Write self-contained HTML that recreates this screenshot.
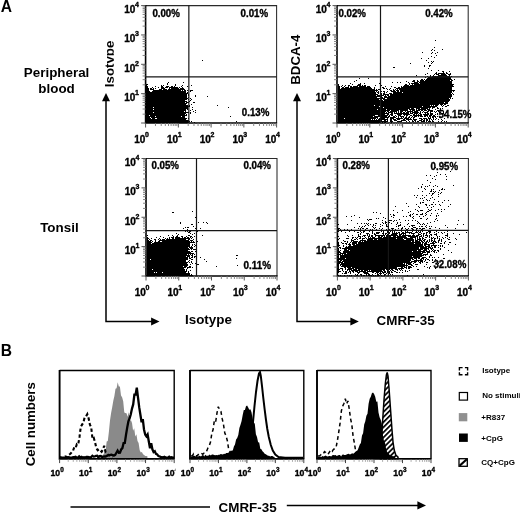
<!DOCTYPE html><html><head><meta charset="utf-8"><title>Figure</title><style>html,body{margin:0;padding:0;background:#fff}svg{display:block;will-change:transform;transform:translateZ(0);filter:blur(.35px)}text{font-family:"Liberation Sans",Arial,Helvetica,sans-serif;font-weight:bold;fill:#000}.s text{stroke:#000;stroke-width:.35px;stroke-linejoin:round}</style></head><body><svg width="520" height="512" viewBox="0 0 520 512"><rect width="520" height="512" fill="#fff"/><defs><clipPath id="cIso"><rect x="100" y="30" width="13.8" height="70"/></clipPath><clipPath id="cH1"><rect x="45" y="360" width="130.3" height="130"/></clipPath><clipPath id="cH2"><rect x="176" y="360" width="132.2" height="130"/></clipPath><clipPath id="cH3"><rect x="308.2" y="360" width="132" height="130"/></clipPath><pattern id="hatch" width="3.6" height="3.6" patternUnits="userSpaceOnUse" patternTransform="rotate(-45)"><rect width="3.6" height="3.6" fill="#fff"/><rect width="3.6" height="1.7" fill="#000"/></pattern></defs><text x="0.80" y="12.20" font-size="15.6" text-anchor="start">A</text><text x="0.80" y="356.40" font-size="15.6" text-anchor="start">B</text><text x="56.60" y="77.00" font-size="13.4" text-anchor="middle">Peripheral</text><text x="56.60" y="92.50" font-size="13.4" text-anchor="middle">blood</text><text x="59.40" y="232.00" font-size="13.4" text-anchor="middle">Tonsil</text><g clip-path="url(#cIso)"><text transform="translate(113.7 87.2) rotate(-90)" font-size="13.3">Isotype</text></g><text transform="translate(300 84.8) rotate(-90)" font-size="13.3">BDCA-4</text><text transform="translate(35.2 466.3) rotate(-90)" font-size="13.3">Cell numbers</text><path d="M106.00 99.00V321.40H153.50" fill="none" stroke="#000" stroke-width="1.5"/><path d="M106.00 93.00l-4 8.2h8z" fill="#000"/><path d="M159.50 321.40l-8.4 -4v8z" fill="#000"/><path d="M297.00 99.00V321.40H352.80" fill="none" stroke="#000" stroke-width="1.5"/><path d="M297.00 93.00l-4 8.2h8z" fill="#000"/><path d="M358.80 321.40l-8.4 -4v8z" fill="#000"/><text x="185.00" y="324.40" font-size="13.4" text-anchor="start">Isotype</text><text x="376.60" y="325.20" font-size="13.4" text-anchor="start">CMRF-35</text><path d="M202 60h1v1h-1zM168 82h1v1h-1zM183 82h1v1h-1zM167 83h1v1h-1zM146 84h2v1h-2zM167 84h1v1h-1zM175 84h1v1h-1zM146 85h1v1h-1zM161 85h1v1h-1zM163 85h1v1h-1zM175 85h1v1h-1zM182 85h1v1h-1zM191 85h1v1h-1zM146 86h2v1h-2zM155 86h1v1h-1zM161 86h2v1h-2zM166 86h3v1h-3zM171 86h2v1h-2zM174 86h1v1h-1zM181 86h1v1h-1zM187 86h1v1h-1zM146 87h2v1h-2zM152 87h1v1h-1zM158 87h1v1h-1zM161 87h3v1h-3zM165 87h3v1h-3zM169 87h9v1h-9zM179 87h1v1h-1zM182 87h1v1h-1zM146 88h3v1h-3zM150 88h2v1h-2zM153 88h1v1h-1zM155 88h1v1h-1zM161 88h4v1h-4zM169 88h1v1h-1zM171 88h8v1h-8zM180 88h4v1h-4zM146 89h3v1h-3zM150 89h4v1h-4zM159 89h3v1h-3zM163 89h4v1h-4zM168 89h17v1h-17zM146 90h3v1h-3zM153 90h28v1h-28zM182 90h1v1h-1zM184 90h2v1h-2zM187 90h1v1h-1zM190 90h3v1h-3zM146 91h4v1h-4zM152 91h34v1h-34zM190 91h1v1h-1zM146 92h40v1h-40zM187 92h1v1h-1zM146 93h42v1h-42zM146 94h41v1h-41zM188 94h1v1h-1zM146 95h41v1h-41zM188 95h1v1h-1zM195 95h1v1h-1zM146 96h41v1h-41zM195 96h1v1h-1zM207 96h1v1h-1zM146 97h41v1h-41zM188 97h1v1h-1zM146 98h42v1h-42zM190 98h1v1h-1zM146 99h41v1h-41zM188 99h1v1h-1zM191 99h1v1h-1zM146 100h39v1h-39zM190 100h1v1h-1zM146 101h41v1h-41zM189 101h1v1h-1zM146 102h39v1h-39zM186 102h3v1h-3zM193 102h2v1h-2zM146 103h41v1h-41zM146 104h40v1h-40zM191 104h1v1h-1zM146 105h42v1h-42zM189 105h1v1h-1zM217 105h1v1h-1zM146 106h44v1h-44zM146 107h7v1h-7zM154 107h34v1h-34zM192 107h1v1h-1zM228 107h1v1h-1zM146 108h42v1h-42zM146 109h7v1h-7zM154 109h32v1h-32zM187 109h1v1h-1zM192 109h1v1h-1zM146 110h40v1h-40zM190 110h1v1h-1zM195 110h1v1h-1zM146 111h38v1h-38zM185 111h1v1h-1zM193 111h1v1h-1zM146 112h7v1h-7zM154 112h35v1h-35zM190 112h1v1h-1zM195 112h1v1h-1zM146 113h40v1h-40zM190 113h1v1h-1zM146 114h39v1h-39zM186 114h1v1h-1zM146 115h3v1h-3zM150 115h37v1h-37zM146 116h9v1h-9zM156 116h25v1h-25zM182 116h3v1h-3zM230 116h1v1h-1zM146 117h4v1h-4zM151 117h34v1h-34zM146 118h5v1h-5zM152 118h3v1h-3zM157 118h30v1h-30zM188 118h1v1h-1zM146 119h40v1h-40zM146 120h43v1h-43zM146 121h44v1h-44zM191 121h1v1h-1zM236 121h1v1h-1zM146 122h43v1h-43zM194 122h1v1h-1z" fill="#000" shape-rendering="crispEdges"/><path d="M145.60 5.60H276.60V123.00" fill="none" stroke="#2a2a2a" stroke-width="1.05"/><path d="M145.60 5.10V123.00H277.10" fill="none" stroke="#000" stroke-width="1.6"/><path d="M188.85 5.60V123.00M145.60 76.95H276.60" fill="none" stroke="#161616" stroke-width="1.2"/><path d="M145.60 123.00v4.5M145.60 123.00h-4.5M178.35 123.00v4.5M145.60 93.65h-4.5M211.10 123.00v4.5M145.60 64.30h-4.5M243.85 123.00v4.5M145.60 34.95h-4.5M276.60 123.00v4.5M145.60 5.60h-4.5" stroke="#555" stroke-width="1" fill="none"/><path d="M155.46 123.00v3M145.60 114.16h-3M161.23 123.00v3M145.60 109.00h-3M165.32 123.00v3M145.60 105.33h-3M168.49 123.00v3M145.60 102.49h-3M171.08 123.00v3M145.60 100.16h-3M173.28 123.00v3M145.60 98.20h-3M175.18 123.00v3M145.60 96.49h-3M176.85 123.00v3M145.60 94.99h-3M188.21 123.00v3M145.60 84.81h-3M193.98 123.00v3M145.60 79.65h-3M198.07 123.00v3M145.60 75.98h-3M201.24 123.00v3M145.60 73.14h-3M203.83 123.00v3M145.60 70.81h-3M206.03 123.00v3M145.60 68.85h-3M207.93 123.00v3M145.60 67.14h-3M209.60 123.00v3M145.60 65.64h-3M220.96 123.00v3M145.60 55.46h-3M226.73 123.00v3M145.60 50.30h-3M230.82 123.00v3M145.60 46.63h-3M233.99 123.00v3M145.60 43.79h-3M236.58 123.00v3M145.60 41.46h-3M238.78 123.00v3M145.60 39.50h-3M240.68 123.00v3M145.60 37.79h-3M242.35 123.00v3M145.60 36.29h-3M253.71 123.00v3M145.60 26.11h-3M259.48 123.00v3M145.60 20.95h-3M263.57 123.00v3M145.60 17.28h-3M266.74 123.00v3M145.60 14.44h-3M269.33 123.00v3M145.60 12.11h-3M271.53 123.00v3M145.60 10.15h-3M273.43 123.00v3M145.60 8.44h-3M275.10 123.00v3M145.60 6.94h-3" stroke="#777" stroke-width=".9" fill="none"/><g class="s"><text x="145.40" y="143.10" font-size="10" text-anchor="end">10</text><text x="145.10" y="137.30" font-size="7">0</text><text x="178.15" y="143.10" font-size="10" text-anchor="end">10</text><text x="177.85" y="137.30" font-size="7">1</text><text x="135.40" y="100.95" font-size="10" text-anchor="end">10</text><text x="135.10" y="95.15" font-size="7">1</text><text x="210.90" y="143.10" font-size="10" text-anchor="end">10</text><text x="210.60" y="137.30" font-size="7">2</text><text x="135.40" y="71.60" font-size="10" text-anchor="end">10</text><text x="135.10" y="65.80" font-size="7">2</text><text x="243.65" y="143.10" font-size="10" text-anchor="end">10</text><text x="243.35" y="137.30" font-size="7">3</text><text x="135.40" y="42.25" font-size="10" text-anchor="end">10</text><text x="135.10" y="36.45" font-size="7">3</text><text x="276.40" y="143.10" font-size="10" text-anchor="end">10</text><text x="276.10" y="137.30" font-size="7">4</text><text x="135.40" y="12.90" font-size="10" text-anchor="end">10</text><text x="135.10" y="7.10" font-size="7">4</text></g><path d="M435 40h1v1h-1zM434 47h1v1h-1zM432 49h1v1h-1zM442 49h1v1h-1zM431 50h1v1h-1zM434 50h1v1h-1zM422 52h1v1h-1zM432 52h1v1h-1zM437 52h1v1h-1zM431 53h1v1h-1zM435 53h1v1h-1zM436 55h1v1h-1zM431 56h1v1h-1zM434 57h1v1h-1zM421 58h1v1h-1zM428 58h1v1h-1zM426 60h1v1h-1zM431 61h1v1h-1zM433 61h1v1h-1zM428 62h1v1h-1zM432 62h1v1h-1zM410 63h1v1h-1zM431 63h1v1h-1zM424 65h1v1h-1zM429 65h2v1h-2zM424 66h1v1h-1zM429 66h1v1h-1zM393 67h2v1h-2zM428 68h1v1h-1zM431 70h1v1h-1zM438 70h1v1h-1zM442 71h2v1h-2zM449 71h1v1h-1zM436 72h1v1h-1zM443 72h1v1h-1zM446 72h1v1h-1zM427 73h1v1h-1zM435 73h2v1h-2zM438 73h7v1h-7zM446 73h2v1h-2zM450 73h1v1h-1zM425 74h1v1h-1zM434 74h1v1h-1zM436 74h3v1h-3zM441 74h5v1h-5zM448 74h3v1h-3zM416 75h1v1h-1zM430 75h1v1h-1zM433 75h1v1h-1zM438 75h9v1h-9zM449 75h1v1h-1zM427 76h1v1h-1zM430 76h1v1h-1zM432 76h18v1h-18zM451 76h1v1h-1zM425 77h1v1h-1zM428 77h23v1h-23zM359 78h1v1h-1zM368 78h1v1h-1zM427 78h24v1h-24zM380 79h1v1h-1zM421 79h2v1h-2zM424 79h1v1h-1zM426 79h26v1h-26zM454 79h1v1h-1zM356 80h1v1h-1zM413 80h2v1h-2zM417 80h1v1h-1zM420 80h4v1h-4zM425 80h25v1h-25zM451 80h2v1h-2zM354 81h1v1h-1zM406 81h1v1h-1zM412 81h3v1h-3zM417 81h2v1h-2zM420 81h32v1h-32zM392 82h1v1h-1zM397 82h1v1h-1zM400 82h1v1h-1zM408 82h1v1h-1zM414 82h4v1h-4zM419 82h33v1h-33zM350 83h1v1h-1zM360 83h1v1h-1zM364 83h1v1h-1zM379 83h1v1h-1zM409 83h1v1h-1zM411 83h8v1h-8zM420 83h32v1h-32zM338 84h1v1h-1zM352 84h1v1h-1zM358 84h3v1h-3zM405 84h2v1h-2zM409 84h1v1h-1zM412 84h1v1h-1zM414 84h40v1h-40zM338 85h1v1h-1zM342 85h1v1h-1zM345 85h1v1h-1zM348 85h2v1h-2zM357 85h4v1h-4zM362 85h1v1h-1zM364 85h2v1h-2zM375 85h1v1h-1zM381 85h1v1h-1zM404 85h5v1h-5zM410 85h43v1h-43zM338 86h2v1h-2zM341 86h1v1h-1zM344 86h1v1h-1zM348 86h1v1h-1zM350 86h2v1h-2zM353 86h5v1h-5zM359 86h7v1h-7zM367 86h3v1h-3zM385 86h1v1h-1zM391 86h1v1h-1zM401 86h1v1h-1zM403 86h51v1h-51zM338 87h2v1h-2zM342 87h2v1h-2zM345 87h4v1h-4zM350 87h21v1h-21zM374 87h1v1h-1zM382 87h2v1h-2zM394 87h2v1h-2zM398 87h2v1h-2zM401 87h51v1h-51zM338 88h2v1h-2zM341 88h31v1h-31zM374 88h1v1h-1zM383 88h2v1h-2zM386 88h1v1h-1zM390 88h1v1h-1zM396 88h56v1h-56zM338 89h37v1h-37zM376 89h1v1h-1zM378 89h2v1h-2zM387 89h1v1h-1zM389 89h1v1h-1zM393 89h1v1h-1zM395 89h1v1h-1zM397 89h1v1h-1zM399 89h53v1h-53zM338 90h40v1h-40zM380 90h1v1h-1zM390 90h2v1h-2zM393 90h2v1h-2zM396 90h3v1h-3zM400 90h55v1h-55zM338 91h37v1h-37zM376 91h1v1h-1zM378 91h1v1h-1zM381 91h1v1h-1zM383 91h2v1h-2zM387 91h1v1h-1zM391 91h5v1h-5zM397 91h2v1h-2zM400 91h52v1h-52zM453 91h1v1h-1zM338 92h38v1h-38zM377 92h2v1h-2zM384 92h1v1h-1zM386 92h1v1h-1zM393 92h9v1h-9zM403 92h49v1h-49zM338 93h38v1h-38zM378 93h1v1h-1zM381 93h1v1h-1zM383 93h2v1h-2zM389 93h3v1h-3zM393 93h58v1h-58zM452 93h1v1h-1zM338 94h40v1h-40zM381 94h1v1h-1zM383 94h6v1h-6zM390 94h62v1h-62zM453 94h1v1h-1zM338 95h38v1h-38zM377 95h7v1h-7zM385 95h1v1h-1zM387 95h2v1h-2zM390 95h62v1h-62zM338 96h42v1h-42zM381 96h1v1h-1zM384 96h3v1h-3zM388 96h64v1h-64zM338 97h39v1h-39zM380 97h3v1h-3zM384 97h67v1h-67zM338 98h47v1h-47zM387 98h62v1h-62zM450 98h1v1h-1zM452 98h1v1h-1zM338 99h41v1h-41zM380 99h2v1h-2zM383 99h67v1h-67zM338 100h45v1h-45zM384 100h66v1h-66zM338 101h111v1h-111zM338 102h106v1h-106zM445 102h3v1h-3zM338 103h110v1h-110zM338 104h101v1h-101zM440 104h3v1h-3zM444 104h2v1h-2zM338 105h36v1h-36zM375 105h55v1h-55zM431 105h1v1h-1zM433 105h1v1h-1zM435 105h3v1h-3zM441 105h1v1h-1zM443 105h1v1h-1zM447 105h2v1h-2zM338 106h41v1h-41zM380 106h42v1h-42zM423 106h14v1h-14zM442 106h1v1h-1zM445 106h2v1h-2zM338 107h45v1h-45zM384 107h47v1h-47zM432 107h3v1h-3zM437 107h1v1h-1zM338 108h72v1h-72zM411 108h3v1h-3zM416 108h4v1h-4zM421 108h7v1h-7zM429 108h1v1h-1zM432 108h1v1h-1zM437 108h2v1h-2zM440 108h1v1h-1zM442 108h1v1h-1zM338 109h39v1h-39zM378 109h8v1h-8zM387 109h21v1h-21zM409 109h6v1h-6zM416 109h1v1h-1zM418 109h8v1h-8zM427 109h3v1h-3zM435 109h1v1h-1zM440 109h1v1h-1zM338 110h52v1h-52zM391 110h8v1h-8zM400 110h8v1h-8zM410 110h1v1h-1zM412 110h3v1h-3zM416 110h4v1h-4zM421 110h2v1h-2zM424 110h3v1h-3zM428 110h5v1h-5zM437 110h2v1h-2zM440 110h2v1h-2zM338 111h48v1h-48zM387 111h2v1h-2zM390 111h7v1h-7zM398 111h1v1h-1zM400 111h3v1h-3zM405 111h1v1h-1zM407 111h6v1h-6zM414 111h4v1h-4zM420 111h1v1h-1zM423 111h1v1h-1zM427 111h2v1h-2zM430 111h3v1h-3zM434 111h1v1h-1zM436 111h1v1h-1zM438 111h1v1h-1zM443 111h1v1h-1zM338 112h47v1h-47zM386 112h1v1h-1zM388 112h5v1h-5zM394 112h1v1h-1zM396 112h1v1h-1zM398 112h1v1h-1zM400 112h2v1h-2zM403 112h2v1h-2zM406 112h3v1h-3zM410 112h1v1h-1zM412 112h7v1h-7zM420 112h1v1h-1zM422 112h1v1h-1zM424 112h4v1h-4zM430 112h1v1h-1zM435 112h1v1h-1zM439 112h2v1h-2zM443 112h1v1h-1zM446 112h1v1h-1zM338 113h51v1h-51zM391 113h2v1h-2zM394 113h15v1h-15zM410 113h3v1h-3zM414 113h4v1h-4zM419 113h2v1h-2zM425 113h1v1h-1zM427 113h2v1h-2zM430 113h3v1h-3zM437 113h1v1h-1zM441 113h3v1h-3zM338 114h47v1h-47zM387 114h2v1h-2zM390 114h3v1h-3zM397 114h5v1h-5zM403 114h7v1h-7zM413 114h2v1h-2zM416 114h1v1h-1zM418 114h1v1h-1zM420 114h2v1h-2zM423 114h6v1h-6zM430 114h3v1h-3zM435 114h1v1h-1zM437 114h1v1h-1zM444 114h1v1h-1zM338 115h37v1h-37zM378 115h10v1h-10zM389 115h1v1h-1zM391 115h2v1h-2zM395 115h1v1h-1zM398 115h3v1h-3zM404 115h1v1h-1zM406 115h2v1h-2zM410 115h2v1h-2zM413 115h9v1h-9zM424 115h4v1h-4zM429 115h3v1h-3zM433 115h2v1h-2zM444 115h1v1h-1zM338 116h35v1h-35zM374 116h13v1h-13zM388 116h2v1h-2zM393 116h2v1h-2zM396 116h1v1h-1zM398 116h1v1h-1zM400 116h4v1h-4zM406 116h1v1h-1zM409 116h1v1h-1zM412 116h1v1h-1zM414 116h3v1h-3zM418 116h1v1h-1zM420 116h3v1h-3zM424 116h2v1h-2zM427 116h1v1h-1zM429 116h2v1h-2zM432 116h4v1h-4zM437 116h1v1h-1zM338 117h40v1h-40zM380 117h9v1h-9zM390 117h6v1h-6zM398 117h1v1h-1zM401 117h1v1h-1zM403 117h1v1h-1zM405 117h2v1h-2zM408 117h2v1h-2zM411 117h1v1h-1zM413 117h2v1h-2zM428 117h1v1h-1zM430 117h1v1h-1zM432 117h2v1h-2zM435 117h1v1h-1zM439 117h1v1h-1zM338 118h6v1h-6zM345 118h31v1h-31zM377 118h1v1h-1zM379 118h6v1h-6zM387 118h1v1h-1zM390 118h4v1h-4zM396 118h7v1h-7zM404 118h5v1h-5zM410 118h1v1h-1zM413 118h1v1h-1zM419 118h3v1h-3zM423 118h4v1h-4zM428 118h3v1h-3zM433 118h1v1h-1zM436 118h1v1h-1zM444 118h1v1h-1zM338 119h33v1h-33zM372 119h1v1h-1zM374 119h1v1h-1zM376 119h1v1h-1zM378 119h10v1h-10zM390 119h2v1h-2zM393 119h3v1h-3zM397 119h3v1h-3zM403 119h2v1h-2zM406 119h6v1h-6zM413 119h4v1h-4zM421 119h2v1h-2zM424 119h1v1h-1zM426 119h2v1h-2zM429 119h1v1h-1zM431 119h1v1h-1zM433 119h1v1h-1zM435 119h1v1h-1zM438 119h1v1h-1zM441 119h1v1h-1zM338 120h44v1h-44zM384 120h2v1h-2zM387 120h1v1h-1zM390 120h2v1h-2zM394 120h3v1h-3zM401 120h5v1h-5zM408 120h1v1h-1zM412 120h1v1h-1zM414 120h2v1h-2zM419 120h3v1h-3zM423 120h2v1h-2zM426 120h2v1h-2zM429 120h1v1h-1zM432 120h1v1h-1zM442 120h1v1h-1zM338 121h50v1h-50zM390 121h3v1h-3zM397 121h5v1h-5zM406 121h1v1h-1zM409 121h1v1h-1zM412 121h2v1h-2zM415 121h1v1h-1zM417 121h2v1h-2zM421 121h4v1h-4zM426 121h1v1h-1zM428 121h3v1h-3zM432 121h2v1h-2zM438 121h1v1h-1zM441 121h1v1h-1zM444 121h1v1h-1zM446 121h1v1h-1zM338 122h42v1h-42zM382 122h1v1h-1zM384 122h2v1h-2zM391 122h1v1h-1z" fill="#000" shape-rendering="crispEdges"/><path d="M337.00 5.60H468.20V123.00" fill="none" stroke="#2a2a2a" stroke-width="1.05"/><path d="M337.00 5.10V123.00H468.70" fill="none" stroke="#000" stroke-width="1.6"/><path d="M380.50 5.60V123.00M337.00 76.80H468.20" fill="none" stroke="#161616" stroke-width="1.2"/><path d="M337.00 123.00v4.5M337.00 123.00h-4.5M369.80 123.00v4.5M337.00 93.65h-4.5M402.60 123.00v4.5M337.00 64.30h-4.5M435.40 123.00v4.5M337.00 34.95h-4.5M468.20 123.00v4.5M337.00 5.60h-4.5" stroke="#555" stroke-width="1" fill="none"/><path d="M346.87 123.00v3M337.00 114.16h-3M352.65 123.00v3M337.00 109.00h-3M356.75 123.00v3M337.00 105.33h-3M359.93 123.00v3M337.00 102.49h-3M362.52 123.00v3M337.00 100.16h-3M364.72 123.00v3M337.00 98.20h-3M366.62 123.00v3M337.00 96.49h-3M368.30 123.00v3M337.00 94.99h-3M379.67 123.00v3M337.00 84.81h-3M385.45 123.00v3M337.00 79.65h-3M389.55 123.00v3M337.00 75.98h-3M392.73 123.00v3M337.00 73.14h-3M395.32 123.00v3M337.00 70.81h-3M397.52 123.00v3M337.00 68.85h-3M399.42 123.00v3M337.00 67.14h-3M401.10 123.00v3M337.00 65.64h-3M412.47 123.00v3M337.00 55.46h-3M418.25 123.00v3M337.00 50.30h-3M422.35 123.00v3M337.00 46.63h-3M425.53 123.00v3M337.00 43.79h-3M428.12 123.00v3M337.00 41.46h-3M430.32 123.00v3M337.00 39.50h-3M432.22 123.00v3M337.00 37.79h-3M433.90 123.00v3M337.00 36.29h-3M445.27 123.00v3M337.00 26.11h-3M451.05 123.00v3M337.00 20.95h-3M455.15 123.00v3M337.00 17.28h-3M458.33 123.00v3M337.00 14.44h-3M460.92 123.00v3M337.00 12.11h-3M463.12 123.00v3M337.00 10.15h-3M465.02 123.00v3M337.00 8.44h-3M466.70 123.00v3M337.00 6.94h-3" stroke="#777" stroke-width=".9" fill="none"/><g class="s"><text x="336.80" y="143.10" font-size="10" text-anchor="end">10</text><text x="336.50" y="137.30" font-size="7">0</text><text x="369.60" y="143.10" font-size="10" text-anchor="end">10</text><text x="369.30" y="137.30" font-size="7">1</text><text x="326.80" y="100.95" font-size="10" text-anchor="end">10</text><text x="326.50" y="95.15" font-size="7">1</text><text x="402.40" y="143.10" font-size="10" text-anchor="end">10</text><text x="402.10" y="137.30" font-size="7">2</text><text x="326.80" y="71.60" font-size="10" text-anchor="end">10</text><text x="326.50" y="65.80" font-size="7">2</text><text x="435.20" y="143.10" font-size="10" text-anchor="end">10</text><text x="434.90" y="137.30" font-size="7">3</text><text x="326.80" y="42.25" font-size="10" text-anchor="end">10</text><text x="326.50" y="36.45" font-size="7">3</text><text x="468.00" y="143.10" font-size="10" text-anchor="end">10</text><text x="467.70" y="137.30" font-size="7">4</text><text x="326.80" y="12.90" font-size="10" text-anchor="end">10</text><text x="326.50" y="7.10" font-size="7">4</text></g><path d="M192 211h1v1h-1zM172 212h2v1h-2zM195 217h1v1h-1zM180 222h1v1h-1zM198 222h1v1h-1zM203 222h1v1h-1zM206 222h1v1h-1zM180 223h1v1h-1zM207 223h1v1h-1zM191 224h2v1h-2zM193 226h1v1h-1zM196 226h1v1h-1zM185 227h1v1h-1zM187 227h2v1h-2zM183 228h1v1h-1zM195 228h1v1h-1zM200 228h1v1h-1zM187 229h1v1h-1zM193 230h1v1h-1zM200 230h1v1h-1zM185 231h1v1h-1zM187 231h1v1h-1zM189 231h2v1h-2zM197 231h1v1h-1zM188 232h2v1h-2zM176 233h1v1h-1zM190 233h1v1h-1zM194 233h1v1h-1zM178 234h1v1h-1zM192 234h1v1h-1zM147 235h1v1h-1zM168 235h1v1h-1zM172 235h1v1h-1zM177 235h1v1h-1zM188 235h2v1h-2zM202 235h1v1h-1zM160 236h1v1h-1zM173 236h1v1h-1zM176 236h2v1h-2zM181 236h2v1h-2zM186 236h1v1h-1zM190 236h2v1h-2zM194 236h1v1h-1zM147 237h1v1h-1zM156 237h1v1h-1zM163 237h1v1h-1zM169 237h1v1h-1zM171 237h3v1h-3zM175 237h5v1h-5zM182 237h1v1h-1zM184 237h2v1h-2zM187 237h2v1h-2zM190 237h1v1h-1zM192 237h1v1h-1zM147 238h2v1h-2zM151 238h1v1h-1zM159 238h1v1h-1zM165 238h1v1h-1zM167 238h1v1h-1zM169 238h1v1h-1zM172 238h2v1h-2zM175 238h15v1h-15zM191 238h1v1h-1zM147 239h1v1h-1zM149 239h1v1h-1zM154 239h2v1h-2zM158 239h1v1h-1zM160 239h1v1h-1zM162 239h3v1h-3zM166 239h20v1h-20zM188 239h2v1h-2zM193 239h1v1h-1zM147 240h2v1h-2zM150 240h2v1h-2zM155 240h1v1h-1zM159 240h30v1h-30zM190 240h3v1h-3zM147 241h4v1h-4zM152 241h1v1h-1zM155 241h1v1h-1zM158 241h2v1h-2zM162 241h28v1h-28zM191 241h1v1h-1zM193 241h1v1h-1zM197 241h1v1h-1zM147 242h5v1h-5zM154 242h41v1h-41zM196 242h1v1h-1zM147 243h4v1h-4zM152 243h38v1h-38zM147 244h43v1h-43zM192 244h1v1h-1zM194 244h1v1h-1zM147 245h43v1h-43zM192 245h1v1h-1zM195 245h1v1h-1zM147 246h43v1h-43zM191 246h1v1h-1zM194 246h1v1h-1zM147 247h41v1h-41zM189 247h4v1h-4zM147 248h42v1h-42zM190 248h3v1h-3zM147 249h43v1h-43zM191 249h1v1h-1zM193 249h3v1h-3zM147 250h41v1h-41zM147 251h43v1h-43zM191 251h2v1h-2zM195 251h1v1h-1zM147 252h44v1h-44zM147 253h47v1h-47zM147 254h40v1h-40zM188 254h1v1h-1zM190 254h1v1h-1zM192 254h1v1h-1zM194 254h1v1h-1zM147 255h43v1h-43zM191 255h2v1h-2zM236 255h2v1h-2zM147 256h39v1h-39zM187 256h3v1h-3zM192 256h1v1h-1zM194 256h2v1h-2zM147 257h41v1h-41zM189 257h1v1h-1zM191 257h2v1h-2zM194 257h1v1h-1zM200 257h1v1h-1zM147 258h41v1h-41zM189 258h2v1h-2zM236 258h1v1h-1zM147 259h3v1h-3zM151 259h37v1h-37zM191 259h2v1h-2zM204 259h1v1h-1zM147 260h39v1h-39zM189 260h1v1h-1zM147 261h39v1h-39zM188 261h1v1h-1zM191 261h1v1h-1zM206 261h1v1h-1zM147 262h41v1h-41zM189 262h1v1h-1zM191 262h1v1h-1zM147 263h40v1h-40zM192 263h1v1h-1zM195 263h1v1h-1zM147 264h41v1h-41zM190 264h1v1h-1zM197 264h2v1h-2zM147 265h41v1h-41zM237 265h1v1h-1zM147 266h36v1h-36zM184 266h3v1h-3zM189 266h2v1h-2zM216 266h1v1h-1zM147 267h39v1h-39zM187 267h4v1h-4zM192 267h1v1h-1zM147 268h37v1h-37zM187 268h1v1h-1zM147 269h5v1h-5zM153 269h32v1h-32zM186 269h1v1h-1zM147 270h38v1h-38zM186 270h1v1h-1zM190 270h1v1h-1zM147 271h40v1h-40zM188 271h1v1h-1zM147 272h7v1h-7zM155 272h1v1h-1zM157 272h5v1h-5zM163 272h23v1h-23zM188 272h1v1h-1zM147 273h43v1h-43zM147 274h43v1h-43zM191 274h1v1h-1zM147 275h46v1h-46z" fill="#000" shape-rendering="crispEdges"/><path d="M146.00 158.50H277.00V276.00" fill="none" stroke="#2a2a2a" stroke-width="1.05"/><path d="M146.00 158.00V276.00H277.50" fill="none" stroke="#000" stroke-width="1.6"/><path d="M196.50 158.50V276.00M146.00 230.60H277.00" fill="none" stroke="#161616" stroke-width="1.2"/><path d="M146.00 276.00v4.5M146.00 276.00h-4.5M178.75 276.00v4.5M146.00 246.62h-4.5M211.50 276.00v4.5M146.00 217.25h-4.5M244.25 276.00v4.5M146.00 187.88h-4.5M277.00 276.00v4.5M146.00 158.50h-4.5" stroke="#555" stroke-width="1" fill="none"/><path d="M155.86 276.00v3M146.00 267.16h-3M161.63 276.00v3M146.00 261.98h-3M165.72 276.00v3M146.00 258.31h-3M168.89 276.00v3M146.00 255.47h-3M171.48 276.00v3M146.00 253.14h-3M173.68 276.00v3M146.00 251.18h-3M175.58 276.00v3M146.00 249.47h-3M177.25 276.00v3M146.00 247.97h-3M188.61 276.00v3M146.00 237.78h-3M194.38 276.00v3M146.00 232.61h-3M198.47 276.00v3M146.00 228.94h-3M201.64 276.00v3M146.00 226.09h-3M204.23 276.00v3M146.00 223.77h-3M206.43 276.00v3M146.00 221.80h-3M208.33 276.00v3M146.00 220.10h-3M210.00 276.00v3M146.00 218.59h-3M221.36 276.00v3M146.00 208.41h-3M227.13 276.00v3M146.00 203.23h-3M231.22 276.00v3M146.00 199.56h-3M234.39 276.00v3M146.00 196.72h-3M236.98 276.00v3M146.00 194.39h-3M239.18 276.00v3M146.00 192.43h-3M241.08 276.00v3M146.00 190.72h-3M242.75 276.00v3M146.00 189.22h-3M254.11 276.00v3M146.00 179.03h-3M259.88 276.00v3M146.00 173.86h-3M263.97 276.00v3M146.00 170.19h-3M267.14 276.00v3M146.00 167.34h-3M269.73 276.00v3M146.00 165.02h-3M271.93 276.00v3M146.00 163.05h-3M273.83 276.00v3M146.00 161.35h-3M275.50 276.00v3M146.00 159.84h-3" stroke="#777" stroke-width=".9" fill="none"/><g class="s"><text x="145.80" y="296.10" font-size="10" text-anchor="end">10</text><text x="145.50" y="290.30" font-size="7">0</text><text x="178.55" y="296.10" font-size="10" text-anchor="end">10</text><text x="178.25" y="290.30" font-size="7">1</text><text x="135.80" y="253.93" font-size="10" text-anchor="end">10</text><text x="135.50" y="248.12" font-size="7">1</text><text x="211.30" y="296.10" font-size="10" text-anchor="end">10</text><text x="211.00" y="290.30" font-size="7">2</text><text x="135.80" y="224.55" font-size="10" text-anchor="end">10</text><text x="135.50" y="218.75" font-size="7">2</text><text x="244.05" y="296.10" font-size="10" text-anchor="end">10</text><text x="243.75" y="290.30" font-size="7">3</text><text x="135.80" y="195.18" font-size="10" text-anchor="end">10</text><text x="135.50" y="189.38" font-size="7">3</text><text x="276.80" y="296.10" font-size="10" text-anchor="end">10</text><text x="276.50" y="290.30" font-size="7">4</text><text x="135.80" y="165.80" font-size="10" text-anchor="end">10</text><text x="135.50" y="160.00" font-size="7">4</text></g><path d="M444 164h1v1h-1zM435 167h1v1h-1zM450 171h1v1h-1zM437 172h1v1h-1zM440 174h1v1h-1zM445 174h1v1h-1zM426 175h1v1h-1zM430 175h1v1h-1zM436 175h1v1h-1zM434 176h1v1h-1zM446 176h1v1h-1zM432 178h1v1h-1zM435 179h1v1h-1zM446 179h1v1h-1zM427 180h1v1h-1zM430 182h1v1h-1zM422 184h1v1h-1zM429 185h1v1h-1zM435 185h1v1h-1zM453 185h1v1h-1zM421 186h1v1h-1zM425 186h1v1h-1zM427 186h1v1h-1zM433 186h1v1h-1zM437 186h1v1h-1zM421 187h1v1h-1zM418 188h1v1h-1zM424 188h1v1h-1zM442 188h1v1h-1zM425 189h1v1h-1zM431 189h1v1h-1zM433 189h1v1h-1zM441 189h2v1h-2zM444 189h1v1h-1zM431 190h1v1h-1zM439 190h1v1h-1zM422 191h1v1h-1zM430 191h2v1h-2zM433 191h1v1h-1zM435 191h1v1h-1zM434 192h1v1h-1zM438 192h1v1h-1zM441 192h1v1h-1zM429 193h1v1h-1zM432 193h2v1h-2zM440 193h1v1h-1zM432 194h1v1h-1zM438 194h1v1h-1zM414 195h1v1h-1zM417 195h1v1h-1zM422 195h1v1h-1zM426 195h1v1h-1zM431 195h1v1h-1zM438 196h1v1h-1zM416 197h1v1h-1zM424 197h1v1h-1zM432 197h1v1h-1zM420 198h1v1h-1zM422 198h1v1h-1zM430 198h1v1h-1zM426 199h1v1h-1zM434 199h1v1h-1zM423 200h1v1h-1zM427 200h1v1h-1zM429 200h1v1h-1zM444 200h1v1h-1zM448 200h1v1h-1zM438 201h1v1h-1zM420 202h1v1h-1zM422 202h2v1h-2zM433 202h1v1h-1zM442 202h1v1h-1zM406 203h1v1h-1zM420 203h1v1h-1zM416 204h1v1h-1zM425 204h2v1h-2zM431 204h2v1h-2zM435 204h1v1h-1zM439 204h1v1h-1zM450 204h1v1h-1zM426 205h1v1h-1zM429 205h1v1h-1zM440 205h1v1h-1zM395 206h1v1h-1zM408 206h1v1h-1zM418 206h1v1h-1zM433 206h1v1h-1zM448 206h1v1h-1zM419 207h1v1h-1zM427 207h1v1h-1zM431 207h1v1h-1zM415 209h1v1h-1zM428 209h1v1h-1zM431 209h1v1h-1zM438 209h1v1h-1zM441 209h1v1h-1zM444 209h1v1h-1zM393 210h1v1h-1zM402 210h1v1h-1zM417 210h1v1h-1zM420 210h3v1h-3zM429 210h2v1h-2zM435 210h1v1h-1zM410 211h1v1h-1zM418 211h1v1h-1zM427 211h2v1h-2zM441 211h1v1h-1zM373 212h1v1h-1zM376 212h1v1h-1zM397 212h1v1h-1zM408 212h1v1h-1zM426 212h1v1h-1zM380 213h1v1h-1zM413 213h1v1h-1zM422 213h1v1h-1zM425 213h1v1h-1zM431 213h1v1h-1zM437 213h1v1h-1zM390 214h1v1h-1zM393 214h1v1h-1zM410 214h1v1h-1zM412 214h1v1h-1zM416 214h2v1h-2zM420 214h3v1h-3zM426 214h1v1h-1zM354 215h1v1h-1zM393 215h2v1h-2zM409 215h2v1h-2zM425 215h1v1h-1zM430 215h1v1h-1zM436 215h1v1h-1zM438 215h1v1h-1zM346 216h1v1h-1zM351 216h1v1h-1zM391 216h1v1h-1zM403 216h1v1h-1zM406 216h1v1h-1zM410 216h1v1h-1zM413 216h1v1h-1zM419 216h1v1h-1zM423 216h1v1h-1zM436 216h1v1h-1zM359 217h1v1h-1zM383 217h1v1h-1zM393 217h1v1h-1zM412 217h1v1h-1zM376 218h1v1h-1zM378 218h1v1h-1zM385 218h1v1h-1zM413 218h1v1h-1zM420 218h2v1h-2zM427 218h1v1h-1zM436 218h1v1h-1zM367 219h1v1h-1zM369 219h3v1h-3zM399 219h1v1h-1zM426 219h1v1h-1zM435 219h1v1h-1zM351 220h1v1h-1zM368 220h1v1h-1zM382 220h1v1h-1zM388 220h4v1h-4zM394 220h1v1h-1zM396 220h1v1h-1zM405 220h1v1h-1zM408 220h1v1h-1zM412 220h1v1h-1zM415 220h1v1h-1zM437 220h1v1h-1zM458 220h1v1h-1zM385 221h1v1h-1zM393 221h1v1h-1zM417 221h1v1h-1zM434 221h1v1h-1zM382 222h1v1h-1zM385 222h2v1h-2zM389 222h1v1h-1zM397 222h1v1h-1zM400 222h1v1h-1zM418 222h1v1h-1zM430 222h1v1h-1zM357 223h1v1h-1zM361 223h1v1h-1zM364 223h1v1h-1zM366 223h1v1h-1zM368 223h1v1h-1zM375 223h2v1h-2zM383 223h1v1h-1zM385 223h1v1h-1zM391 223h1v1h-1zM397 223h1v1h-1zM408 223h1v1h-1zM417 223h1v1h-1zM419 223h1v1h-1zM423 223h1v1h-1zM427 223h1v1h-1zM338 224h1v1h-1zM347 224h1v1h-1zM367 224h1v1h-1zM370 224h1v1h-1zM373 224h1v1h-1zM380 224h1v1h-1zM386 224h1v1h-1zM396 224h1v1h-1zM400 224h1v1h-1zM407 224h1v1h-1zM420 224h1v1h-1zM422 224h1v1h-1zM424 224h1v1h-1zM457 224h1v1h-1zM463 224h1v1h-1zM365 225h1v1h-1zM368 225h1v1h-1zM373 225h1v1h-1zM375 225h1v1h-1zM382 225h1v1h-1zM386 225h1v1h-1zM398 225h3v1h-3zM411 225h4v1h-4zM426 225h1v1h-1zM445 225h1v1h-1zM359 226h1v1h-1zM362 226h1v1h-1zM364 226h1v1h-1zM372 226h1v1h-1zM380 226h1v1h-1zM386 226h2v1h-2zM396 226h1v1h-1zM398 226h1v1h-1zM404 226h1v1h-1zM409 226h1v1h-1zM412 226h1v1h-1zM419 226h1v1h-1zM421 226h2v1h-2zM425 226h1v1h-1zM429 226h1v1h-1zM431 226h1v1h-1zM354 227h1v1h-1zM361 227h1v1h-1zM373 227h1v1h-1zM375 227h1v1h-1zM402 227h1v1h-1zM413 227h3v1h-3zM426 227h1v1h-1zM435 227h1v1h-1zM447 227h1v1h-1zM338 228h2v1h-2zM358 228h1v1h-1zM360 228h1v1h-1zM362 228h2v1h-2zM366 228h2v1h-2zM374 228h1v1h-1zM379 228h1v1h-1zM382 228h1v1h-1zM391 228h3v1h-3zM398 228h1v1h-1zM401 228h2v1h-2zM405 228h1v1h-1zM408 228h1v1h-1zM411 228h2v1h-2zM416 228h2v1h-2zM419 228h2v1h-2zM422 228h3v1h-3zM429 228h2v1h-2zM439 228h1v1h-1zM455 228h1v1h-1zM338 229h1v1h-1zM340 229h1v1h-1zM344 229h1v1h-1zM347 229h1v1h-1zM351 229h1v1h-1zM360 229h1v1h-1zM365 229h1v1h-1zM370 229h1v1h-1zM372 229h1v1h-1zM376 229h1v1h-1zM381 229h1v1h-1zM386 229h1v1h-1zM389 229h1v1h-1zM392 229h1v1h-1zM395 229h1v1h-1zM401 229h1v1h-1zM406 229h2v1h-2zM412 229h2v1h-2zM416 229h1v1h-1zM421 229h2v1h-2zM350 230h1v1h-1zM353 230h1v1h-1zM356 230h1v1h-1zM384 230h1v1h-1zM387 230h1v1h-1zM389 230h1v1h-1zM393 230h1v1h-1zM395 230h2v1h-2zM403 230h1v1h-1zM408 230h1v1h-1zM410 230h1v1h-1zM414 230h2v1h-2zM427 230h1v1h-1zM435 230h1v1h-1zM437 230h1v1h-1zM338 231h1v1h-1zM341 231h1v1h-1zM349 231h1v1h-1zM354 231h1v1h-1zM360 231h1v1h-1zM363 231h2v1h-2zM369 231h1v1h-1zM372 231h1v1h-1zM381 231h1v1h-1zM383 231h1v1h-1zM387 231h1v1h-1zM390 231h1v1h-1zM392 231h1v1h-1zM394 231h1v1h-1zM401 231h1v1h-1zM405 231h1v1h-1zM407 231h1v1h-1zM412 231h1v1h-1zM416 231h1v1h-1zM418 231h1v1h-1zM420 231h1v1h-1zM422 231h1v1h-1zM428 231h3v1h-3zM436 231h1v1h-1zM447 231h1v1h-1zM345 232h1v1h-1zM357 232h2v1h-2zM361 232h1v1h-1zM363 232h1v1h-1zM372 232h1v1h-1zM376 232h4v1h-4zM383 232h1v1h-1zM387 232h1v1h-1zM389 232h1v1h-1zM392 232h1v1h-1zM394 232h1v1h-1zM396 232h1v1h-1zM398 232h2v1h-2zM402 232h2v1h-2zM405 232h7v1h-7zM415 232h3v1h-3zM419 232h2v1h-2zM426 232h2v1h-2zM429 232h2v1h-2zM434 232h1v1h-1zM438 232h1v1h-1zM441 232h1v1h-1zM444 232h1v1h-1zM466 232h1v1h-1zM360 233h1v1h-1zM366 233h3v1h-3zM372 233h1v1h-1zM374 233h1v1h-1zM376 233h3v1h-3zM382 233h2v1h-2zM385 233h2v1h-2zM388 233h2v1h-2zM392 233h6v1h-6zM399 233h1v1h-1zM401 233h5v1h-5zM409 233h1v1h-1zM411 233h4v1h-4zM418 233h1v1h-1zM421 233h1v1h-1zM423 233h2v1h-2zM426 233h1v1h-1zM429 233h1v1h-1zM436 233h1v1h-1zM442 233h1v1h-1zM447 233h1v1h-1zM453 233h1v1h-1zM358 234h1v1h-1zM360 234h1v1h-1zM367 234h1v1h-1zM369 234h1v1h-1zM374 234h2v1h-2zM383 234h1v1h-1zM385 234h1v1h-1zM387 234h2v1h-2zM391 234h6v1h-6zM399 234h3v1h-3zM403 234h1v1h-1zM405 234h1v1h-1zM413 234h1v1h-1zM418 234h3v1h-3zM423 234h1v1h-1zM426 234h1v1h-1zM430 234h2v1h-2zM434 234h3v1h-3zM447 234h1v1h-1zM459 234h1v1h-1zM347 235h1v1h-1zM352 235h1v1h-1zM358 235h1v1h-1zM363 235h3v1h-3zM367 235h1v1h-1zM369 235h1v1h-1zM371 235h2v1h-2zM375 235h10v1h-10zM386 235h12v1h-12zM399 235h2v1h-2zM402 235h9v1h-9zM412 235h3v1h-3zM416 235h3v1h-3zM421 235h1v1h-1zM423 235h1v1h-1zM425 235h3v1h-3zM429 235h1v1h-1zM431 235h1v1h-1zM436 235h1v1h-1zM445 235h3v1h-3zM338 236h1v1h-1zM348 236h1v1h-1zM358 236h3v1h-3zM362 236h1v1h-1zM364 236h1v1h-1zM368 236h2v1h-2zM371 236h2v1h-2zM375 236h1v1h-1zM378 236h2v1h-2zM381 236h2v1h-2zM384 236h1v1h-1zM386 236h5v1h-5zM393 236h3v1h-3zM397 236h9v1h-9zM408 236h10v1h-10zM419 236h3v1h-3zM423 236h1v1h-1zM427 236h1v1h-1zM429 236h1v1h-1zM437 236h1v1h-1zM439 236h1v1h-1zM447 236h1v1h-1zM352 237h2v1h-2zM355 237h1v1h-1zM357 237h1v1h-1zM360 237h1v1h-1zM365 237h1v1h-1zM368 237h1v1h-1zM370 237h1v1h-1zM372 237h3v1h-3zM378 237h4v1h-4zM383 237h24v1h-24zM410 237h6v1h-6zM417 237h1v1h-1zM419 237h1v1h-1zM422 237h1v1h-1zM425 237h2v1h-2zM429 237h1v1h-1zM431 237h1v1h-1zM433 237h1v1h-1zM437 237h1v1h-1zM442 237h1v1h-1zM445 237h1v1h-1zM449 237h1v1h-1zM339 238h1v1h-1zM346 238h3v1h-3zM352 238h1v1h-1zM356 238h1v1h-1zM359 238h2v1h-2zM362 238h3v1h-3zM366 238h1v1h-1zM368 238h28v1h-28zM397 238h6v1h-6zM404 238h9v1h-9zM415 238h1v1h-1zM417 238h1v1h-1zM419 238h2v1h-2zM422 238h2v1h-2zM431 238h2v1h-2zM434 238h2v1h-2zM437 238h1v1h-1zM439 238h1v1h-1zM443 238h1v1h-1zM447 238h1v1h-1zM455 238h1v1h-1zM338 239h1v1h-1zM351 239h1v1h-1zM354 239h2v1h-2zM357 239h1v1h-1zM362 239h1v1h-1zM367 239h6v1h-6zM374 239h3v1h-3zM378 239h26v1h-26zM406 239h8v1h-8zM415 239h1v1h-1zM417 239h4v1h-4zM422 239h1v1h-1zM424 239h2v1h-2zM429 239h1v1h-1zM431 239h1v1h-1zM434 239h1v1h-1zM439 239h1v1h-1zM441 239h1v1h-1zM448 239h2v1h-2zM456 239h1v1h-1zM343 240h1v1h-1zM351 240h3v1h-3zM360 240h6v1h-6zM367 240h47v1h-47zM415 240h3v1h-3zM419 240h3v1h-3zM423 240h2v1h-2zM427 240h1v1h-1zM429 240h1v1h-1zM431 240h2v1h-2zM434 240h1v1h-1zM438 240h2v1h-2zM441 240h1v1h-1zM344 241h2v1h-2zM347 241h1v1h-1zM351 241h1v1h-1zM353 241h5v1h-5zM359 241h2v1h-2zM362 241h1v1h-1zM364 241h47v1h-47zM412 241h2v1h-2zM415 241h5v1h-5zM421 241h2v1h-2zM424 241h1v1h-1zM426 241h2v1h-2zM429 241h1v1h-1zM431 241h1v1h-1zM433 241h3v1h-3zM438 241h1v1h-1zM441 241h1v1h-1zM445 241h1v1h-1zM338 242h1v1h-1zM341 242h1v1h-1zM347 242h1v1h-1zM350 242h1v1h-1zM352 242h5v1h-5zM358 242h63v1h-63zM422 242h2v1h-2zM425 242h2v1h-2zM428 242h1v1h-1zM432 242h2v1h-2zM435 242h2v1h-2zM438 242h1v1h-1zM444 242h1v1h-1zM449 242h2v1h-2zM338 243h1v1h-1zM342 243h2v1h-2zM345 243h2v1h-2zM349 243h1v1h-1zM352 243h5v1h-5zM358 243h56v1h-56zM415 243h6v1h-6zM422 243h1v1h-1zM424 243h3v1h-3zM430 243h5v1h-5zM440 243h2v1h-2zM444 243h1v1h-1zM338 244h1v1h-1zM346 244h1v1h-1zM348 244h3v1h-3zM352 244h3v1h-3zM356 244h67v1h-67zM424 244h6v1h-6zM433 244h1v1h-1zM448 244h1v1h-1zM455 244h1v1h-1zM338 245h2v1h-2zM343 245h1v1h-1zM349 245h2v1h-2zM353 245h70v1h-70zM424 245h2v1h-2zM428 245h2v1h-2zM431 245h6v1h-6zM438 245h1v1h-1zM440 245h1v1h-1zM442 245h1v1h-1zM338 246h1v1h-1zM343 246h1v1h-1zM346 246h1v1h-1zM348 246h76v1h-76zM425 246h5v1h-5zM431 246h1v1h-1zM434 246h2v1h-2zM440 246h1v1h-1zM442 246h1v1h-1zM339 247h2v1h-2zM345 247h74v1h-74zM420 247h7v1h-7zM428 247h3v1h-3zM432 247h1v1h-1zM434 247h2v1h-2zM438 247h1v1h-1zM444 247h1v1h-1zM338 248h1v1h-1zM340 248h1v1h-1zM342 248h77v1h-77zM420 248h9v1h-9zM430 248h3v1h-3zM440 248h1v1h-1zM338 249h1v1h-1zM344 249h3v1h-3zM348 249h75v1h-75zM424 249h3v1h-3zM428 249h1v1h-1zM431 249h1v1h-1zM433 249h1v1h-1zM440 249h1v1h-1zM338 250h1v1h-1zM340 250h1v1h-1zM344 250h5v1h-5zM350 250h67v1h-67zM418 250h3v1h-3zM423 250h4v1h-4zM429 250h1v1h-1zM432 250h1v1h-1zM434 250h2v1h-2zM437 250h2v1h-2zM448 250h1v1h-1zM338 251h2v1h-2zM343 251h69v1h-69zM413 251h12v1h-12zM426 251h4v1h-4zM431 251h1v1h-1zM433 251h2v1h-2zM438 251h1v1h-1zM338 252h3v1h-3zM343 252h78v1h-78zM422 252h4v1h-4zM427 252h3v1h-3zM434 252h1v1h-1zM436 252h1v1h-1zM451 252h1v1h-1zM338 253h1v1h-1zM340 253h6v1h-6zM347 253h76v1h-76zM427 253h1v1h-1zM338 254h3v1h-3zM342 254h1v1h-1zM344 254h78v1h-78zM423 254h5v1h-5zM430 254h1v1h-1zM443 254h1v1h-1zM338 255h1v1h-1zM340 255h84v1h-84zM425 255h1v1h-1zM430 255h2v1h-2zM338 256h1v1h-1zM340 256h72v1h-72zM413 256h9v1h-9zM429 256h1v1h-1zM338 257h1v1h-1zM340 257h80v1h-80zM422 257h4v1h-4zM429 257h1v1h-1zM432 257h1v1h-1zM434 257h1v1h-1zM438 257h1v1h-1zM338 258h7v1h-7zM346 258h67v1h-67zM414 258h3v1h-3zM418 258h2v1h-2zM421 258h3v1h-3zM426 258h1v1h-1zM443 258h2v1h-2zM338 259h73v1h-73zM412 259h2v1h-2zM416 259h1v1h-1zM420 259h2v1h-2zM423 259h1v1h-1zM425 259h1v1h-1zM427 259h2v1h-2zM432 259h1v1h-1zM435 259h1v1h-1zM338 260h1v1h-1zM340 260h2v1h-2zM343 260h68v1h-68zM414 260h9v1h-9zM425 260h1v1h-1zM429 260h1v1h-1zM432 260h1v1h-1zM338 261h3v1h-3zM342 261h68v1h-68zM411 261h6v1h-6zM418 261h1v1h-1zM420 261h3v1h-3zM424 261h1v1h-1zM338 262h5v1h-5zM344 262h68v1h-68zM414 262h2v1h-2zM419 262h2v1h-2zM422 262h1v1h-1zM426 262h2v1h-2zM432 262h2v1h-2zM338 263h2v1h-2zM341 263h62v1h-62zM404 263h1v1h-1zM406 263h5v1h-5zM413 263h1v1h-1zM420 263h1v1h-1zM438 263h1v1h-1zM338 264h1v1h-1zM340 264h65v1h-65zM406 264h1v1h-1zM408 264h4v1h-4zM415 264h3v1h-3zM426 264h1v1h-1zM338 265h1v1h-1zM340 265h1v1h-1zM342 265h66v1h-66zM411 265h2v1h-2zM338 266h1v1h-1zM341 266h64v1h-64zM406 266h1v1h-1zM408 266h3v1h-3zM413 266h1v1h-1zM416 266h1v1h-1zM424 266h1v1h-1zM430 266h1v1h-1zM338 267h1v1h-1zM344 267h2v1h-2zM347 267h4v1h-4zM352 267h45v1h-45zM401 267h2v1h-2zM404 267h3v1h-3zM408 267h4v1h-4zM427 267h1v1h-1zM429 267h1v1h-1zM338 268h1v1h-1zM340 268h3v1h-3zM345 268h1v1h-1zM348 268h6v1h-6zM355 268h42v1h-42zM398 268h6v1h-6zM406 268h1v1h-1zM408 268h2v1h-2zM429 268h1v1h-1zM435 268h1v1h-1zM338 269h2v1h-2zM342 269h1v1h-1zM345 269h1v1h-1zM347 269h5v1h-5zM353 269h4v1h-4zM358 269h27v1h-27zM386 269h4v1h-4zM391 269h2v1h-2zM395 269h3v1h-3zM399 269h1v1h-1zM401 269h1v1h-1zM417 269h2v1h-2zM338 270h1v1h-1zM342 270h1v1h-1zM347 270h1v1h-1zM349 270h1v1h-1zM351 270h9v1h-9zM361 270h2v1h-2zM364 270h4v1h-4zM369 270h1v1h-1zM371 270h11v1h-11zM383 270h2v1h-2zM387 270h1v1h-1zM390 270h1v1h-1zM392 270h2v1h-2zM397 270h1v1h-1zM400 270h1v1h-1zM402 270h1v1h-1zM405 270h1v1h-1zM409 270h1v1h-1zM338 271h3v1h-3zM343 271h1v1h-1zM345 271h2v1h-2zM349 271h2v1h-2zM352 271h2v1h-2zM355 271h3v1h-3zM359 271h7v1h-7zM367 271h16v1h-16zM384 271h2v1h-2zM387 271h3v1h-3zM391 271h1v1h-1zM394 271h2v1h-2zM405 271h1v1h-1zM407 271h1v1h-1zM338 272h1v1h-1zM345 272h2v1h-2zM348 272h1v1h-1zM350 272h1v1h-1zM353 272h1v1h-1zM357 272h3v1h-3zM363 272h5v1h-5zM372 272h2v1h-2zM376 272h3v1h-3zM380 272h1v1h-1zM382 272h4v1h-4zM387 272h1v1h-1zM389 272h1v1h-1zM391 272h2v1h-2zM396 272h2v1h-2zM399 272h1v1h-1zM402 272h1v1h-1zM342 273h1v1h-1zM344 273h3v1h-3zM350 273h1v1h-1zM358 273h1v1h-1zM364 273h5v1h-5zM375 273h1v1h-1zM377 273h1v1h-1zM379 273h3v1h-3zM383 273h1v1h-1zM386 273h1v1h-1zM389 273h1v1h-1zM355 274h1v1h-1zM357 274h1v1h-1zM360 274h2v1h-2zM366 274h1v1h-1zM368 274h2v1h-2zM372 274h1v1h-1zM377 274h2v1h-2zM380 274h1v1h-1zM384 274h2v1h-2zM390 274h1v1h-1zM392 274h1v1h-1zM423 274h1v1h-1zM338 275h1v1h-1zM340 275h1v1h-1zM344 275h1v1h-1zM347 275h1v1h-1zM349 275h1v1h-1zM351 275h1v1h-1zM356 275h2v1h-2zM361 275h1v1h-1zM363 275h2v1h-2zM366 275h1v1h-1zM368 275h4v1h-4zM373 275h1v1h-1zM375 275h1v1h-1zM377 275h3v1h-3zM381 275h1v1h-1zM384 275h1v1h-1zM407 275h1v1h-1z" fill="#000" shape-rendering="crispEdges"/><path d="M337.40 158.50H468.40V276.00" fill="none" stroke="#2a2a2a" stroke-width="1.05"/><path d="M337.40 158.00V276.00H468.90" fill="none" stroke="#000" stroke-width="1.6"/><path d="M388.40 158.50V276.00M337.40 230.30H468.40" fill="none" stroke="#161616" stroke-width="1.2"/><path d="M337.40 276.00v4.5M337.40 276.00h-4.5M370.15 276.00v4.5M337.40 246.62h-4.5M402.90 276.00v4.5M337.40 217.25h-4.5M435.65 276.00v4.5M337.40 187.88h-4.5M468.40 276.00v4.5M337.40 158.50h-4.5" stroke="#555" stroke-width="1" fill="none"/><path d="M347.26 276.00v3M337.40 267.16h-3M353.03 276.00v3M337.40 261.98h-3M357.12 276.00v3M337.40 258.31h-3M360.29 276.00v3M337.40 255.47h-3M362.88 276.00v3M337.40 253.14h-3M365.08 276.00v3M337.40 251.18h-3M366.98 276.00v3M337.40 249.47h-3M368.65 276.00v3M337.40 247.97h-3M380.01 276.00v3M337.40 237.78h-3M385.78 276.00v3M337.40 232.61h-3M389.87 276.00v3M337.40 228.94h-3M393.04 276.00v3M337.40 226.09h-3M395.63 276.00v3M337.40 223.77h-3M397.83 276.00v3M337.40 221.80h-3M399.73 276.00v3M337.40 220.10h-3M401.40 276.00v3M337.40 218.59h-3M412.76 276.00v3M337.40 208.41h-3M418.53 276.00v3M337.40 203.23h-3M422.62 276.00v3M337.40 199.56h-3M425.79 276.00v3M337.40 196.72h-3M428.38 276.00v3M337.40 194.39h-3M430.58 276.00v3M337.40 192.43h-3M432.48 276.00v3M337.40 190.72h-3M434.15 276.00v3M337.40 189.22h-3M445.51 276.00v3M337.40 179.03h-3M451.28 276.00v3M337.40 173.86h-3M455.37 276.00v3M337.40 170.19h-3M458.54 276.00v3M337.40 167.34h-3M461.13 276.00v3M337.40 165.02h-3M463.33 276.00v3M337.40 163.05h-3M465.23 276.00v3M337.40 161.35h-3M466.90 276.00v3M337.40 159.84h-3" stroke="#777" stroke-width=".9" fill="none"/><g class="s"><text x="337.20" y="296.10" font-size="10" text-anchor="end">10</text><text x="336.90" y="290.30" font-size="7">0</text><text x="369.95" y="296.10" font-size="10" text-anchor="end">10</text><text x="369.65" y="290.30" font-size="7">1</text><text x="327.20" y="253.93" font-size="10" text-anchor="end">10</text><text x="326.90" y="248.12" font-size="7">1</text><text x="402.70" y="296.10" font-size="10" text-anchor="end">10</text><text x="402.40" y="290.30" font-size="7">2</text><text x="327.20" y="224.55" font-size="10" text-anchor="end">10</text><text x="326.90" y="218.75" font-size="7">2</text><text x="435.45" y="296.10" font-size="10" text-anchor="end">10</text><text x="435.15" y="290.30" font-size="7">3</text><text x="327.20" y="195.18" font-size="10" text-anchor="end">10</text><text x="326.90" y="189.38" font-size="7">3</text><text x="468.20" y="296.10" font-size="10" text-anchor="end">10</text><text x="467.90" y="290.30" font-size="7">4</text><text x="327.20" y="165.80" font-size="10" text-anchor="end">10</text><text x="326.90" y="160.00" font-size="7">4</text></g><g class="s"><text x="152.40" y="17.00" font-size="10" text-anchor="start" textLength="27.5" lengthAdjust="spacingAndGlyphs">0.00%</text><text x="240.60" y="17.40" font-size="10" text-anchor="start" textLength="27.5" lengthAdjust="spacingAndGlyphs">0.01%</text><text x="241.80" y="116.30" font-size="10" text-anchor="start" textLength="27.5" lengthAdjust="spacingAndGlyphs">0.13%</text><text x="338.50" y="17.00" font-size="10" text-anchor="start" textLength="27.5" lengthAdjust="spacingAndGlyphs">0.02%</text><text x="425.20" y="17.00" font-size="10" text-anchor="start" textLength="27.5" lengthAdjust="spacingAndGlyphs">0.42%</text><text x="438.60" y="117.80" font-size="10" text-anchor="start" textLength="32.9" lengthAdjust="spacingAndGlyphs">54.15%</text><text x="151.50" y="169.20" font-size="10" text-anchor="start" textLength="27.5" lengthAdjust="spacingAndGlyphs">0.05%</text><text x="243.50" y="169.20" font-size="10" text-anchor="start" textLength="27.5" lengthAdjust="spacingAndGlyphs">0.04%</text><text x="243.50" y="268.50" font-size="10" text-anchor="start" textLength="27.5" lengthAdjust="spacingAndGlyphs">0.11%</text><text x="342.50" y="169.20" font-size="10" text-anchor="start" textLength="27.5" lengthAdjust="spacingAndGlyphs">0.28%</text><text x="430.60" y="170.00" font-size="10" text-anchor="start" textLength="27.5" lengthAdjust="spacingAndGlyphs">0.95%</text><text x="433.40" y="267.60" font-size="10" text-anchor="start" textLength="32.9" lengthAdjust="spacingAndGlyphs">32.08%</text></g><path d="M99.0 458.0L100.1 457.1L101.2 456.6L102.3 456.2L103.4 454.3L104.5 452.8L105.6 450.5L106.7 441.4L107.8 441.0L108.9 431.7L110.0 420.5L111.1 413.0L112.2 407.3L113.3 400.8L114.4 396.1L115.5 388.8L116.6 388.2L117.7 382.2L118.8 386.5L119.9 386.4L121.0 395.6L122.1 397.3L123.2 401.2L124.3 412.6L125.4 413.1L126.5 413.3L127.6 416.8L128.7 412.1L129.8 420.9L130.9 419.9L132.0 422.9L133.1 430.7L134.2 428.2L135.3 436.5L136.4 434.3L137.5 440.9L138.6 443.0L139.7 450.3L140.8 452.6L141.9 451.9L143.0 454.2L144.1 455.0L145.2 456.1L146.3 456.0L147.4 456.2L147.4 458.7L99.0 458.7z" fill="#8a8a8a"/><path d="M60.0 456.8L61.3 457.9L62.6 458.0L63.9 457.2L65.2 456.4L66.5 457.4L67.8 455.5L69.1 454.6L70.4 453.8L71.7 452.3L73.0 450.8L74.3 447.1L75.6 447.9L76.9 444.1L78.2 444.5L79.5 436.9L80.8 426.8L82.1 424.6L83.4 422.5L84.7 417.1L86.0 416.5L87.3 414.2L88.6 418.3L89.9 424.6L91.2 427.2L92.5 439.0L93.8 438.0L95.1 442.5L96.4 448.3L97.7 450.2L99.0 449.2L100.3 450.6L101.6 451.8L102.9 449.6L104.2 445.8L105.5 452.0L106.8 453.8L108.1 454.7L109.4 455.0L110.7 455.9L112.0 456.0L113.3 456.6" fill="none" stroke="#000" stroke-width="2.1" stroke-dasharray="3.4 2.4" stroke-linejoin="miter" stroke-miterlimit="3"/><path d="M60.0 457.6L61.2 457.6L62.4 457.6L63.6 457.6L64.8 457.6L66.0 457.5L67.2 457.5L68.4 457.1L69.6 457.4L70.8 457.6L72.0 457.6L73.2 457.2L74.4 457.1L75.6 456.8L76.8 457.6L78.0 457.6L79.2 456.3L80.4 457.5L81.6 456.8L82.8 457.6L84.0 457.2L85.2 457.6L86.4 456.8L87.6 456.8L88.8 457.1L90.0 457.5L91.2 457.0L92.4 455.8L93.6 456.6L94.8 456.3L96.0 455.9L97.2 455.8L98.4 457.5L99.6 456.1L100.8 455.9L102.0 456.9L103.2 456.6L104.4 456.4L105.6 456.5L106.8 455.9L108.0 455.4L109.2 455.4L110.4 454.8L111.6 454.6L112.8 455.2L114.0 455.5L115.2 454.8L116.4 452.7L117.6 450.6L118.8 452.7L120.0 452.6L121.2 449.4L122.4 448.1L123.6 443.1L124.8 442.9L126.0 434.9L127.2 427.6L128.4 421.3L129.6 418.3L130.8 414.2L132.0 408.6L133.2 404.4L134.4 394.6L135.6 394.5L136.8 387.6L138.0 397.5L139.2 407.2L140.4 414.8L141.6 422.2L142.8 419.1L144.0 429.5L145.2 434.5L146.4 436.3L147.6 434.4L148.8 441.5L150.0 448.3L151.2 443.2L152.4 449.3L153.6 452.1L154.8 451.3L156.0 453.9L157.2 454.4L158.4 456.1L159.6 456.4L160.8 457.2L162.0 457.2L163.2 457.6L164.4 456.9L165.6 457.5L166.8 457.6L168.0 457.6L169.2 456.7L170.4 457.6L171.6 457.3L172.8 457.6L174.0 457.6" fill="none" stroke="#000" stroke-width="2.3" stroke-linejoin="miter" stroke-miterlimit="3"/><path d="M59.60 370.50H174.20V458.70" fill="none" stroke="#000" stroke-width="1.4"/><path d="M59.60 370.00V458.90H174.70" fill="none" stroke="#000" stroke-width="1.9"/><path d="M59.60 459.50v3.6M88.25 459.50v3.6M116.90 459.50v3.6M145.55 459.50v3.6M174.20 459.50v3.6" stroke="#444" stroke-width="1" fill="none"/><path d="M68.22 459.50v2.4M73.27 459.50v2.4M76.85 459.50v2.4M79.63 459.50v2.4M81.89 459.50v2.4M83.81 459.50v2.4M85.47 459.50v2.4M86.94 459.50v2.4M96.87 459.50v2.4M101.92 459.50v2.4M105.50 459.50v2.4M108.28 459.50v2.4M110.54 459.50v2.4M112.46 459.50v2.4M114.12 459.50v2.4M115.59 459.50v2.4M125.52 459.50v2.4M130.57 459.50v2.4M134.15 459.50v2.4M136.93 459.50v2.4M139.19 459.50v2.4M141.11 459.50v2.4M142.77 459.50v2.4M144.24 459.50v2.4M154.17 459.50v2.4M159.22 459.50v2.4M162.80 459.50v2.4M165.58 459.50v2.4M167.84 459.50v2.4M169.76 459.50v2.4M171.42 459.50v2.4M172.89 459.50v2.4" stroke="#999" stroke-width=".8" fill="none"/><g class="s" clip-path="url(#cH1)"><text x="60.10" y="476.10" font-size="8.7" text-anchor="end">10</text><text x="60.20" y="472.10" font-size="6.4">0</text><text x="88.75" y="476.10" font-size="8.7" text-anchor="end">10</text><text x="88.85" y="472.10" font-size="6.4">1</text><text x="117.40" y="476.10" font-size="8.7" text-anchor="end">10</text><text x="117.50" y="472.10" font-size="6.4">2</text><text x="146.05" y="476.10" font-size="8.7" text-anchor="end">10</text><text x="146.15" y="472.10" font-size="6.4">3</text><text x="174.70" y="476.10" font-size="8.7" text-anchor="end">10</text><text x="174.80" y="472.10" font-size="6.4">4</text></g><path d="M191.0 457.0L192.1 456.5L193.2 455.5L194.3 455.7L195.4 456.6L196.5 456.1L197.6 456.6L198.7 456.2L199.8 455.7L200.9 456.4L202.0 455.5L203.1 454.8L204.2 456.6L205.3 454.7L206.4 455.8L207.5 455.8L208.6 455.4L209.7 454.5L210.8 455.6L211.9 454.5L213.0 454.5L214.1 454.9L215.2 455.3L216.3 455.1L217.4 455.3L218.5 454.7L219.6 454.7L220.7 454.1L221.8 454.3L222.9 454.4L224.0 453.8L225.1 453.9L226.2 453.1L227.3 452.9L228.4 452.7L229.5 451.7L230.6 451.5L231.7 450.4L232.8 450.5L233.9 446.5L235.0 444.6L236.1 439.6L237.2 438.0L238.3 435.0L239.4 428.1L240.5 424.7L241.6 421.1L242.7 415.0L243.8 409.9L244.9 410.0L246.0 406.2L247.1 405.5L248.2 407.6L249.3 409.7L250.4 409.2L251.5 412.3L252.6 418.7L253.7 422.6L254.8 423.8L255.9 434.3L257.0 437.0L258.1 442.2L259.2 442.6L260.3 448.8L261.4 449.2L262.5 451.3L263.6 452.2L264.7 453.8L265.8 454.3L266.9 454.9L268.0 455.7L269.1 455.8L270.2 456.4L271.3 456.0L272.4 456.0L273.5 456.7L274.6 457.0L274.6 458.7L191.0 458.7z" fill="#000"/><path d="M191.0 456.0L192.3 455.8L193.6 453.7L194.9 455.2L196.2 456.0L197.5 455.5L198.8 453.9L200.1 453.2L201.4 453.2L202.7 454.3L204.0 453.1L205.3 452.8L206.6 451.2L207.9 448.0L209.2 446.0L210.5 442.1L211.8 433.7L213.1 429.5L214.4 420.3L215.7 421.6L217.0 412.9L218.3 406.7L219.6 409.9L220.9 411.3L222.2 418.7L223.5 424.7L224.8 433.0L226.1 436.0L227.4 441.0L228.7 449.5L230.0 451.4L231.3 452.8L232.6 452.8L233.9 450.3L235.2 452.6" fill="none" stroke="#000" stroke-width="1.5" stroke-dasharray="3.8 3.0" stroke-linejoin="miter" stroke-miterlimit="3"/><path d="M250.0 456.0L251.5 440.0L253.0 422.0L254.5 406.0L256.0 392.0L257.5 381.0L259.0 373.5L260.0 372.2L260.8 376.0L262.0 386.0L263.3 398.0L264.6 409.0L266.0 420.0L267.3 429.0L268.8 437.0L270.8 445.0L272.8 450.5L275.3 454.5L278.5 457.0L285.0 457.8L303.0 457.8" fill="none" stroke="#000" stroke-width="2" stroke-linejoin="miter" stroke-miterlimit="3"/><path d="M190.00 370.50H303.80V458.70" fill="none" stroke="#000" stroke-width="1.4"/><path d="M190.00 370.00V458.90H304.30" fill="none" stroke="#000" stroke-width="1.9"/><path d="M190.00 459.50v3.6M218.45 459.50v3.6M246.90 459.50v3.6M275.35 459.50v3.6M303.80 459.50v3.6" stroke="#444" stroke-width="1" fill="none"/><path d="M198.56 459.50v2.4M203.57 459.50v2.4M207.13 459.50v2.4M209.89 459.50v2.4M212.14 459.50v2.4M214.04 459.50v2.4M215.69 459.50v2.4M217.15 459.50v2.4M227.01 459.50v2.4M232.02 459.50v2.4M235.58 459.50v2.4M238.34 459.50v2.4M240.59 459.50v2.4M242.49 459.50v2.4M244.14 459.50v2.4M245.60 459.50v2.4M255.46 459.50v2.4M260.47 459.50v2.4M264.03 459.50v2.4M266.79 459.50v2.4M269.04 459.50v2.4M270.94 459.50v2.4M272.59 459.50v2.4M274.05 459.50v2.4M283.91 459.50v2.4M288.92 459.50v2.4M292.48 459.50v2.4M295.24 459.50v2.4M297.49 459.50v2.4M299.39 459.50v2.4M301.04 459.50v2.4M302.50 459.50v2.4" stroke="#999" stroke-width=".8" fill="none"/><g class="s" clip-path="url(#cH2)"><text x="190.50" y="476.10" font-size="8.7" text-anchor="end">10</text><text x="190.60" y="472.10" font-size="6.4">0</text><text x="218.95" y="476.10" font-size="8.7" text-anchor="end">10</text><text x="219.05" y="472.10" font-size="6.4">1</text><text x="247.40" y="476.10" font-size="8.7" text-anchor="end">10</text><text x="247.50" y="472.10" font-size="6.4">2</text><text x="275.85" y="476.10" font-size="8.7" text-anchor="end">10</text><text x="275.95" y="472.10" font-size="6.4">3</text><text x="304.30" y="476.10" font-size="8.7" text-anchor="end">10</text><text x="304.40" y="472.10" font-size="6.4">4</text></g><path d="M380.5 457.0L381.5 440.0L382.7 420.0L384.0 400.0L385.3 384.0L386.4 375.0L387.2 372.5L388.0 376.0L389.0 388.0L390.0 402.0L391.0 416.0L392.0 430.0L393.0 442.0L394.2 450.0L395.8 455.0L398.0 457.0L398.0 458.7L380.5 458.7z" fill="url(#hatch)" stroke="#000" stroke-width="1.5" stroke-linejoin="miter" stroke-miterlimit="3"/><path d="M318.0 457.0L319.1 457.0L320.2 456.4L321.3 457.0L322.4 456.0L323.5 456.4L324.6 456.1L325.7 455.5L326.8 456.2L327.9 456.5L329.0 456.0L330.1 456.0L331.2 456.5L332.3 455.2L333.4 455.0L334.5 455.3L335.6 455.0L336.7 456.0L337.8 455.5L338.9 454.9L340.0 454.9L341.1 456.4L342.2 454.7L343.3 454.5L344.4 454.9L345.5 454.9L346.6 454.6L347.7 454.0L348.8 453.8L349.9 454.5L351.0 454.1L352.1 453.2L353.2 453.8L354.3 453.1L355.4 451.8L356.5 451.1L357.6 450.2L358.7 447.4L359.8 444.5L360.9 443.0L362.0 435.4L363.1 433.2L364.2 424.4L365.3 421.3L366.4 415.8L367.5 413.7L368.6 403.7L369.7 398.7L370.8 396.8L371.9 393.2L373.0 392.5L374.1 393.9L375.2 396.8L376.3 401.7L377.4 401.5L378.5 412.5L379.6 417.2L380.7 419.8L381.8 423.5L382.9 435.2L384.0 441.1L385.1 443.1L386.2 449.7L387.3 452.2L388.4 453.0L389.5 454.8L390.6 455.7L391.7 455.5L392.8 456.2L393.9 456.3L395.0 456.6L395.0 458.7L318.0 458.7z" fill="#000"/><path d="M318.0 456.0L319.3 456.0L320.6 455.0L321.9 453.8L323.2 454.1L324.5 451.6L325.8 452.6L327.1 454.4L328.4 453.6L329.7 451.6L331.0 449.9L332.3 451.2L333.6 449.2L334.9 449.0L336.2 446.8L337.5 439.9L338.8 431.7L340.1 422.9L341.4 410.7L342.7 406.2L344.0 403.3L345.3 398.8L346.6 403.8L347.9 401.0L349.2 408.6L350.5 418.4L351.8 424.5L353.1 436.2L354.4 443.0L355.7 451.6L357.0 453.0L358.3 454.6" fill="none" stroke="#000" stroke-width="1.5" stroke-dasharray="3.8 3.0" stroke-linejoin="miter" stroke-miterlimit="3"/><path d="M317.00 370.50H431.00V458.70" fill="none" stroke="#000" stroke-width="1.4"/><path d="M317.00 370.00V458.90H431.50" fill="none" stroke="#000" stroke-width="1.9"/><path d="M317.00 459.50v3.6M345.50 459.50v3.6M374.00 459.50v3.6M402.50 459.50v3.6M431.00 459.50v3.6" stroke="#444" stroke-width="1" fill="none"/><path d="M325.58 459.50v2.4M330.60 459.50v2.4M334.16 459.50v2.4M336.92 459.50v2.4M339.18 459.50v2.4M341.09 459.50v2.4M342.74 459.50v2.4M344.20 459.50v2.4M354.08 459.50v2.4M359.10 459.50v2.4M362.66 459.50v2.4M365.42 459.50v2.4M367.68 459.50v2.4M369.59 459.50v2.4M371.24 459.50v2.4M372.70 459.50v2.4M382.58 459.50v2.4M387.60 459.50v2.4M391.16 459.50v2.4M393.92 459.50v2.4M396.18 459.50v2.4M398.09 459.50v2.4M399.74 459.50v2.4M401.20 459.50v2.4M411.08 459.50v2.4M416.10 459.50v2.4M419.66 459.50v2.4M422.42 459.50v2.4M424.68 459.50v2.4M426.59 459.50v2.4M428.24 459.50v2.4M429.70 459.50v2.4" stroke="#999" stroke-width=".8" fill="none"/><g class="s" clip-path="url(#cH3)"><text x="317.50" y="476.10" font-size="8.7" text-anchor="end">10</text><text x="317.60" y="472.10" font-size="6.4">0</text><text x="346.00" y="476.10" font-size="8.7" text-anchor="end">10</text><text x="346.10" y="472.10" font-size="6.4">1</text><text x="374.50" y="476.10" font-size="8.7" text-anchor="end">10</text><text x="374.60" y="472.10" font-size="6.4">2</text><text x="403.00" y="476.10" font-size="8.7" text-anchor="end">10</text><text x="403.10" y="472.10" font-size="6.4">3</text><text x="431.50" y="476.10" font-size="8.7" text-anchor="end">10</text><text x="431.60" y="472.10" font-size="6.4">4</text></g><path d="M70.5 506.9H210" stroke="#000" stroke-width="1.5" fill="none"/><path d="M286.8 505.4H419" stroke="#000" stroke-width="1.5" fill="none"/><path d="M426 505.4l-8.6 -4.1v8.2z" fill="#000"/><text x="218.60" y="511.70" font-size="13.4" text-anchor="start">CMRF-35</text><path d="M459.4 370.4V367.6H462.6M464.9 367.6H467.6V370.4M467.6 372.2V374.7H464.9M462.5 374.7H459.4V372.2" fill="none" stroke="#000" stroke-width="1.4"/><rect x="459.3" y="392.5" width="8.2" height="7.6" fill="#fff" stroke="#000" stroke-width="1.2"/><rect x="458.8" y="413.1" width="8.5" height="8.2" fill="#909090"/><rect x="459" y="433.5" width="8.8" height="8.4" fill="#000"/><rect x="459" y="458.7" width="8.3" height="7.6" fill="#fff" stroke="#000" stroke-width="1.3"/><path d="M459.6 465.8l7.2 -6.6" stroke="#000" stroke-width="2.2"/><text x="482.20" y="372.90" font-size="8" text-anchor="start">Isotype</text><text x="482.20" y="397.50" font-size="8" text-anchor="start">No stimuli</text><text x="481.30" y="419.80" font-size="8" text-anchor="start">+R837</text><text x="481.30" y="440.60" font-size="8" text-anchor="start">+CpG</text><text x="481.30" y="464.70" font-size="8" text-anchor="start">CQ+CpG</text></svg></body></html>
